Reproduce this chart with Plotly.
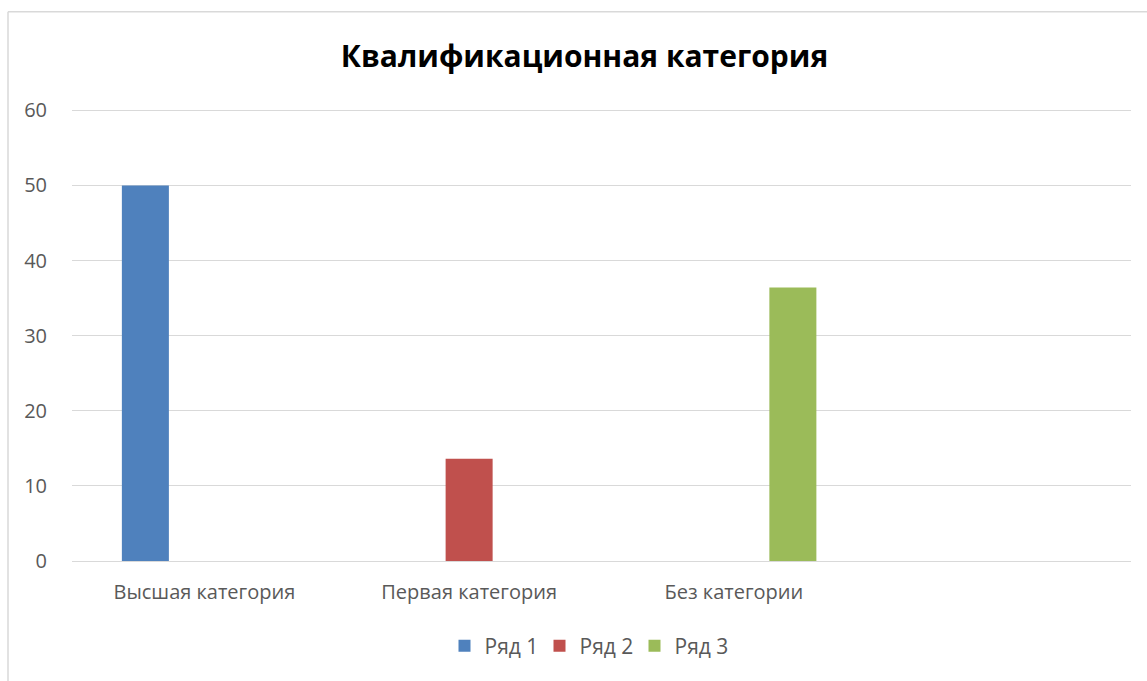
import plotly.graph_objects as go

categories = ["Высшая категория", "Первая категория", "Без категории", " "]
series_names = ["Ряд 1", "Ряд 2", "Ряд 3"]
series1 = [50, None, None, None]
series2 = [None, 13.6, None, None]
series3 = [None, None, 36.4, None]
colors = ["#4F81BD", "#C0504D", "#9BBB59"]
y_ticks = [0, 10, 20, 30, 40, 50, 60]

W, H = 1147, 681
ML, MR, MB = 72, 16, 119.5
YMAX = 60.3
MT = 110.5 - 451.5 * (YMAX - 60) / 60

fig = go.Figure()
for name, vals, col in zip(series_names, [series1, series2, series3], colors):
    fig.add_trace(go.Bar(x=categories, y=vals, name=name, marker=dict(color=col, line=dict(width=0))))

font_fam = "Open Sans, Noto Sans, sans-serif"
text_col = "#595959"
PH = H - MT - MB
PW = W - ML - MR

fig.update_layout(
    width=W, height=H,
    margin=dict(l=ML, r=MR, t=MT, b=MB, autoexpand=False),
    paper_bgcolor="white", plot_bgcolor="white",
    barmode="group", bargap=0.3315, bargroupgap=0.203,
    font=dict(family=font_fam, color=text_col, size=20),
    title=dict(text="<b>Квалификационная категория</b>", x=584.5 / W, xref="container", xanchor="center",
               y=1 - 56 / H, yref="container", yanchor="middle",
               font=dict(family=font_fam, size=30, color="#000000")),
    showlegend=True,
    legend=dict(orientation="h", x=587 / W, xref="container", xanchor="center",
                y=1 - 646 / H, yref="container", yanchor="middle",
                font=dict(size=21, color=text_col), traceorder="normal",
                entrywidth=50, itemwidth=30),
    xaxis=dict(type="category", categoryorder="array", categoryarray=categories,
               showline=False, showgrid=False, zeroline=False, ticks="outside", ticklen=13, tickcolor="rgba(0,0,0,0)",
               tickfont=dict(size=20, color=text_col)),
    yaxis=dict(range=[0, YMAX], tickvals=y_ticks, showgrid=True, gridcolor="#D9D9D9", gridwidth=1.3,
               zeroline=True, zerolinecolor="#D9D9D9", zerolinewidth=1.3,
               showline=False, ticks="outside", ticklen=20, tickcolor="rgba(0,0,0,0)",
               tickfont=dict(size=20, color=text_col)),
    shapes=[
        dict(type="line", xref="paper", yref="paper", x0=(8 - ML) / PW, x1=1.2,
             y0=(H - MB - 12) / PH, y1=(H - MB - 12) / PH,
             line=dict(color="#D9D9D9", width=1.5)),
        dict(type="line", xref="paper", yref="paper", x0=(8 - ML) / PW, x1=(8 - ML) / PW,
             y0=-0.5, y1=(H - MB - 12) / PH,
             line=dict(color="#D9D9D9", width=1.5)),
    ],
)

fig.write_html("out.html", config={"displayModeBar": False},
               post_script="document.body.style.margin='0';document.body.style.overflow='hidden';")
